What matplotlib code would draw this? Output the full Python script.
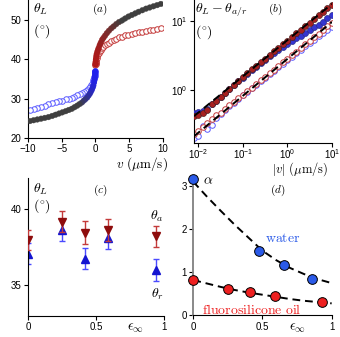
import numpy as np
import matplotlib.pyplot as plt
from matplotlib.colors import to_rgb

plt.rcParams['font.family'] = ['Liberation Sans', 'DejaVu Sans']
plt.rcParams['mathtext.fontset'] = 'cm'
plt.rcParams['font.size'] = 7
plt.rcParams['xtick.major.size'] = 3
plt.rcParams['ytick.major.size'] = 3
plt.rcParams['xtick.major.pad'] = 1.5
plt.rcParams['ytick.major.pad'] = 1.5

# ---- (a) contact angle vs velocity ----
speed_a = [0.01, 0.02, 0.04, 0.07, 0.1, 0.15, 0.2, 0.3, 0.4, 0.5, 0.65, 0.8, 1.0,
           1.2, 1.45, 1.7, 2.0, 2.35, 2.7, 3.1, 3.5, 3.95, 4.4, 4.9, 5.4, 5.9,
           6.4, 6.95, 7.5, 8.05, 8.6, 9.15, 9.7]
adv_filled = [38.6, 38.9, 39.3, 39.8, 40.2, 40.8, 41.3, 41.9, 42.4, 42.9, 43.6, 44.2,
              44.9, 45.4, 46.0, 46.6, 47.2, 47.8, 48.3, 48.9, 49.4, 49.8, 50.3, 50.8,
              51.2, 51.6, 52.0, 52.4, 52.8, 53.1, 53.4, 53.7, 54.0]
adv_open = [38.5, 38.7, 39.0, 39.3, 39.6, 40.0, 40.3, 40.8, 41.2, 41.6, 42.0, 42.4,
            42.8, 43.2, 43.6, 43.9, 44.2, 44.6, 44.9, 45.2, 45.5, 45.7, 46.0, 46.2,
            46.4, 46.6, 46.8, 47.0, 47.2, 47.4, 47.5, 47.7, 47.9]
rec_filled = [36.9, 36.6, 36.1, 35.6, 35.1, 34.6, 34.1, 33.3, 32.8, 32.3, 31.8, 31.3,
              30.8, 30.3, 29.9, 29.5, 29.0, 28.6, 28.2, 27.8, 27.4, 27.1, 26.8, 26.5,
              26.2, 25.9, 25.6, 25.3, 25.1, 24.9, 24.7, 24.5, 24.3]
rec_open = [36.9, 36.7, 36.4, 36.1, 35.8, 35.4, 35.1, 34.6, 34.2, 33.8, 33.4, 33.0,
            32.6, 32.3, 32.0, 31.7, 31.4, 31.1, 30.8, 30.5, 30.2, 30.0, 29.8, 29.5,
            29.3, 29.1, 28.8, 28.5, 28.2, 27.9, 27.6, 27.4, 27.1]

# ---- (b) log-log of theta_L - theta_a/r ----
speed_b = [0.008, 0.01, 0.0126, 0.0158, 0.02, 0.025, 0.0316, 0.04, 0.05, 0.063, 0.079,
           0.1, 0.126, 0.158, 0.2, 0.25, 0.316, 0.4, 0.5, 0.63, 0.79, 1.0, 1.26, 1.58,
           2.0, 2.5, 3.16, 4.0, 5.0, 6.3, 7.9, 10.0]
d_adv_filled = [0.42, 0.44, 0.47, 0.52, 0.62, 0.70, 0.80, 0.92, 1.05, 1.19, 1.35, 1.53,
                1.75, 1.98, 2.23, 2.51, 2.83, 3.19, 3.60, 4.06, 4.57, 5.15, 5.81, 6.55,
                7.38, 8.32, 9.38, 10.6, 11.9, 13.4, 15.1, 17.1]
d_rec_filled = [0.47, 0.48, 0.50, 0.54, 0.63, 0.69, 0.79, 0.90, 1.03, 1.17, 1.33, 1.50,
                1.70, 1.92, 2.17, 2.43, 2.72, 3.05, 3.40, 3.80, 4.20, 4.65, 5.10, 5.60,
                6.10, 6.70, 7.30, 8.00, 8.80, 9.70, 10.8, 12.1]
d_adv_open = [0.23, 0.26, 0.29, 0.33, 0.38, 0.43, 0.47, 0.53, 0.60, 0.67, 0.76, 0.85,
              0.96, 1.08, 1.22, 1.38, 1.55, 1.75, 1.97, 2.22, 2.50, 2.82, 3.18, 3.58,
              4.04, 4.55, 5.13, 5.78, 6.51, 7.34, 8.27, 9.32]
d_rec_open = [0.20, 0.22, 0.30, 0.27, 0.31, 0.40, 0.45, 0.52, 0.59, 0.66, 0.75, 0.84,
              0.94, 1.06, 1.19, 1.34, 1.50, 1.69, 1.90, 2.13, 2.40, 2.70, 3.03, 3.40,
              3.82, 4.28, 4.80, 5.35, 5.95, 6.60, 7.35, 8.20]
fit_v = [0.008, 10.0]
fit_filled = [0.42, 17.5]
fit_open = [0.215, 9.6]

# ---- (c) static angles vs eps_inf ----
eps_c = [0.0, 0.25, 0.42, 0.59, 0.94]
theta_a = [37.93, 39.15, 38.43, 38.58, 38.2]
theta_r = [37.06, 38.58, 36.73, 38.1, 35.97]
err_a = [0.65, 0.7, 0.74, 0.73, 0.69]
err_r = [0.68, 0.7, 0.71, 0.71, 0.71]

# ---- (d) alpha vs eps_inf ----
eps_water = [0.0, 0.477, 0.655, 0.86]
alpha_water = [3.16, 1.5, 1.18, 0.85]
eps_oil = [0.0, 0.253, 0.41, 0.59, 0.93]
alpha_oil = [0.83, 0.61, 0.535, 0.44, 0.32]
curve_eps = [0.0, 0.1, 0.2, 0.3, 0.4, 0.5, 0.6, 0.7, 0.8, 0.9, 1.0]
curve_water = [3.1, 2.75, 2.42, 2.1, 1.8, 1.5, 1.28, 1.1, 0.96, 0.84, 0.75]
curve_oil = [0.82, 0.74, 0.66, 0.59, 0.53, 0.48, 0.43, 0.38, 0.34, 0.31, 0.28]


def blend(c1, c2, t):
    a, b = np.array(to_rgb(c1)), np.array(to_rgb(c2))
    return tuple(a + (b - a) * t)


def clean(ax):
    ax.spines['top'].set_visible(False)
    ax.spines['right'].set_visible(False)
    ax.tick_params(direction='out', labelsize=7)


fig = plt.figure(figsize=(3.4, 3.37), dpi=100)

# (a)
ax = fig.add_axes([0.082, 0.5905, 0.397, 0.4095])
clean(ax)
sp = np.array(speed_a)
gray = '#3f3f3f'
pos_cols = [blend('#b01818', gray, min(s / 4.0, 1)) for s in sp]
neg_cols = [blend('#2020f0', gray, min(s / 2.5, 1)) for s in sp]
ax.scatter(sp, adv_open, s=16, facecolors='white', edgecolors='#c43a3a', linewidths=0.7, zorder=2)
ax.scatter(-sp, rec_open, s=16, facecolors='white', edgecolors='#5a5aff', linewidths=0.7, zorder=2)
ax.scatter(sp, adv_filled, s=16, c=pos_cols, edgecolors=pos_cols, linewidths=0.3, zorder=3)
ax.scatter(-sp, rec_filled, s=16, c=neg_cols, edgecolors=neg_cols, linewidths=0.3, zorder=3)
ax.set_xlim(-10, 10)
ax.set_ylim(20, 55)
ax.set_xticks([-10, -5, 0, 5, 10])
ax.set_yticks([20, 30, 40, 50])
ax.text(0.04, 0.985, r'$\theta_L$', transform=ax.transAxes, fontsize=10, va='top')
ax.text(0.04, 0.84, r'$(^{\circ})$', transform=ax.transAxes, fontsize=10, va='top')
ax.text(0.53, 0.985, r'$(a)$', transform=ax.transAxes, fontsize=8, va='top', ha='center')

# (b)
ax = fig.add_axes([0.5706, 0.5766, 0.4059, 0.4234])
clean(ax)
ax.set_xscale('log')
ax.set_yscale('log')
ax.plot(speed_b, d_rec_open, 'o', ms=4, mfc='white', mec='#5a5aff', mew=0.7, zorder=2)
ax.plot(speed_b, d_adv_open, 'o', ms=4, mfc='white', mec='#c43a3a', mew=0.7, zorder=2)
ax.plot(speed_b, d_rec_filled, 'o', ms=4.3, mfc='#3535d0', mec='#2a2a90', mew=0.5, zorder=3)
ax.plot(speed_b, d_adv_filled, 'o', ms=4.3, mfc='#a82020', mec='#502020', mew=0.5, zorder=3)
ax.plot(fit_v, fit_filled, '--', color='black', lw=1.4, dashes=(4, 2.5), zorder=4)
ax.plot(fit_v, fit_open, '--', color='black', lw=1.4, dashes=(4, 2.5), zorder=4)
ax.set_xlim(10 ** -2.096, 10)
ax.set_ylim(0.174, 19.9)
ax.set_xticks([0.01, 0.1, 1, 10])
ax.set_yticks([1, 10])
ax.minorticks_off()
ax.tick_params(axis='x', pad=0.3)
ax.text(0.01, 0.985, r'$\theta_L-\theta_{a/r}$', transform=ax.transAxes, fontsize=10, va='top')
ax.text(0.01, 0.84, r'$(^{\circ})$', transform=ax.transAxes, fontsize=10, va='top')
ax.text(0.59, 0.985, r'$(b)$', transform=ax.transAxes, fontsize=8, va='top', ha='center')

fig.text(168 / 340, 1 - 164 / 337, r'$v\ (\mu\mathrm{m/s})$', fontsize=9.5, ha='right', va='center')
fig.text(300 / 340, 1 - 169.5 / 337, r'$|v|\ (\mu\mathrm{m/s})$', fontsize=9, ha='center', va='center')

# (c)
ax = fig.add_axes([0.082, 0.0632, 0.4, 0.4088])
clean(ax)
ax.errorbar(eps_c, theta_a, yerr=err_a, fmt='v', ms=6, mfc='#8e0c0c', mec='#8e0c0c',
            ecolor='#c43a3a', elinewidth=1, capsize=2.5, capthick=1, zorder=3)
ax.errorbar(eps_c, theta_r, yerr=err_r, fmt='^', ms=6, mfc='#1414d0', mec='#1414d0',
            ecolor='#4a4aff', elinewidth=1, capsize=2.5, capthick=1, zorder=2)
ax.set_xlim(0, 1)
ax.set_ylim(33, 42)
ax.set_xticks([0, 0.5, 1])
ax.set_xticklabels(['0', '0.5', '1'])
ax.set_yticks([35, 40])
ax.text(0.04, 0.975, r'$\theta_L$', transform=ax.transAxes, fontsize=10, va='top')
ax.text(0.04, 0.86, r'$(^{\circ})$', transform=ax.transAxes, fontsize=10, va='top')
ax.text(0.53, 0.965, r'$(c)$', transform=ax.transAxes, fontsize=8, va='top', ha='center')
fig.text(157 / 340, 1 - 216 / 337, r'$\theta_a$', fontsize=10, ha='center', va='center')
fig.text(157 / 340, 1 - 294 / 337, r'$\theta_r$', fontsize=10, ha='center', va='center')
fig.text(135 / 340, 1 - 328 / 337, r'$\epsilon_\infty$', fontsize=10, ha='center', va='center')

# (d)
ax = fig.add_axes([0.5685, 0.064, 0.407, 0.412])
clean(ax)
ax.spines['left'].set_color('#808080')
ax.spines['left'].set_linewidth(1.3)
ax.plot(curve_eps, curve_water, '--', color='black', lw=1.4, dashes=(4, 2.5), zorder=2)
ax.plot(curve_eps, curve_oil, '--', color='black', lw=1.4, dashes=(4, 2.5), zorder=2)
ax.plot(eps_water, alpha_water, 'o', ms=7, mfc='#2a5ae8', mec='black', mew=0.7, zorder=3, clip_on=False)
ax.plot(eps_oil, alpha_oil, 'o', ms=7, mfc='#ee2020', mec='black', mew=0.7, zorder=3, clip_on=False)
ax.set_xlim(0, 1)
ax.set_ylim(0, 3.22)
ax.set_xticks([0, 0.5, 1])
ax.set_xticklabels(['0', '0.5', '1'])
ax.set_yticks([0, 1, 2, 3])
fig.text(208 / 340, 1 - 180 / 337, r'$\alpha$', fontsize=10, ha='center', va='center')
fig.text(278 / 340, 1 - 190 / 337, r'$(d)$', fontsize=8, ha='center', va='center')
fig.text(283 / 340, 1 - 238 / 337, r'$\mathrm{water}$', fontsize=10, color='#2a5ae8',
         ha='center', va='center')
fig.text(252 / 340, 1 - 310 / 337, r'$\mathrm{fluorosilicone\ oil}$', fontsize=10,
         color='#ee2020', ha='center', va='center')
fig.text(297 / 340, 1 - 328 / 337, r'$\epsilon_\infty$', fontsize=10, ha='center', va='center')

fig.savefig('out.png', dpi=100)
